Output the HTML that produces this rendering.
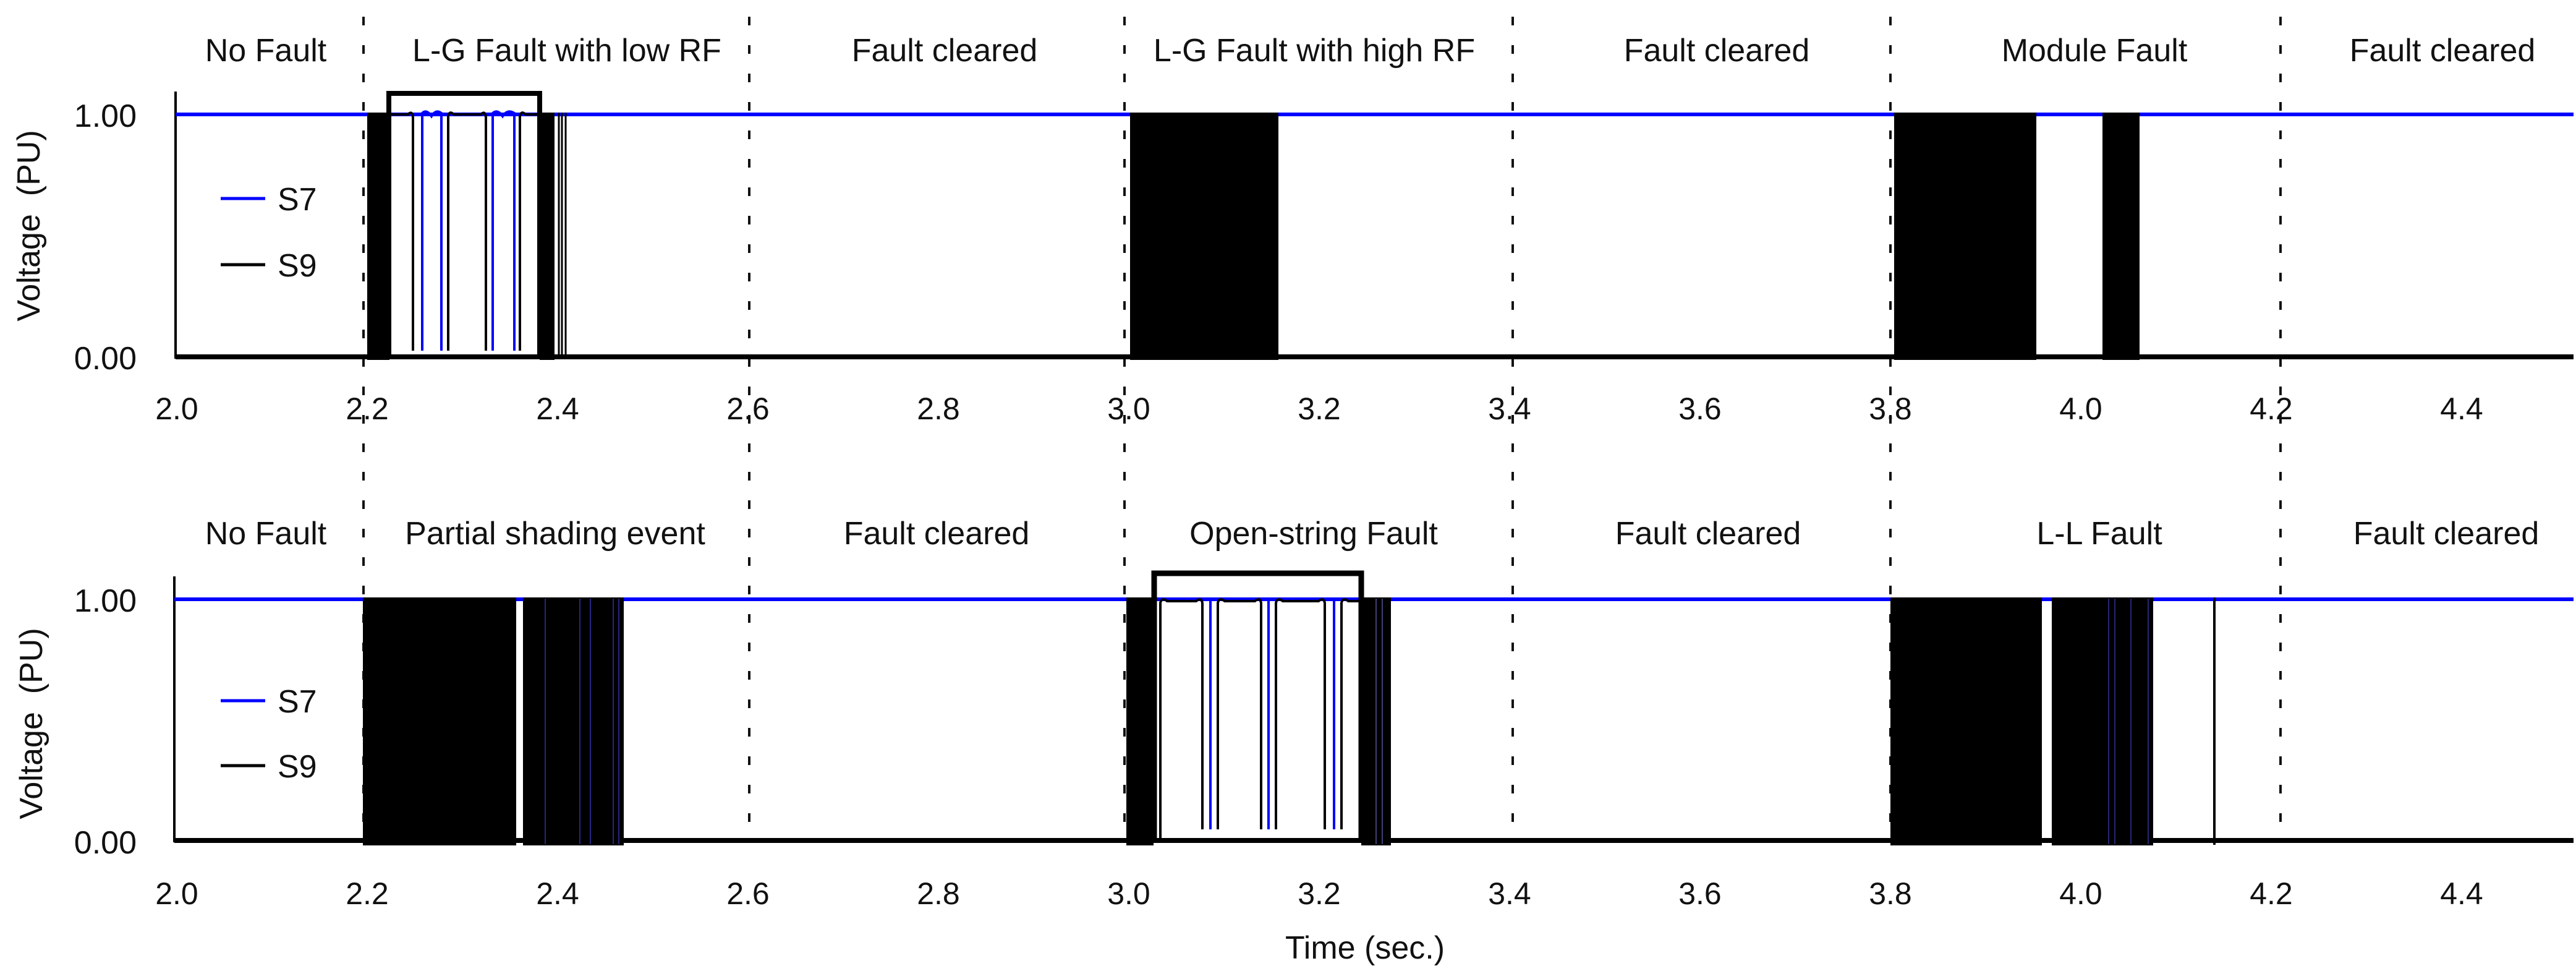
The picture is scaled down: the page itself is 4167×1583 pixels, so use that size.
<!DOCTYPE html>
<html><head><meta charset="utf-8"><style>
html,body{margin:0;padding:0;background:#fff;}
svg{display:block;}
text{font-family:"Liberation Sans",sans-serif;fill:#111;}
</style></head><body>
<svg width="4167" height="1583" viewBox="0 0 4167 1583" xmlns="http://www.w3.org/2000/svg">
<!-- dashed separators -->
<g stroke="#111" stroke-width="4" stroke-dasharray="14 32" fill="none">
<line x1="588" y1="27" x2="588" y2="1358"/>
<line x1="1212" y1="27" x2="1212" y2="1358"/>
<line x1="1819" y1="27" x2="1819" y2="1358"/>
<line x1="2447" y1="27" x2="2447" y2="1358"/>
<line x1="3058" y1="27" x2="3058" y2="1358"/>
<line x1="3689" y1="27" x2="3689" y2="1358"/>
</g>

<!-- ============ TOP PANEL ============ -->
<line x1="284" y1="148" x2="284" y2="580" stroke="#000" stroke-width="4"/>
<line x1="284" y1="185" x2="4163" y2="185" stroke="#0000ff" stroke-width="6"/>
<line x1="284" y1="577" x2="4163" y2="577" stroke="#000" stroke-width="8"/>
<!-- LG low RF -->
<rect x="594" y="182" width="36" height="400" fill="#000"/>
<rect x="873" y="182" width="24" height="400" fill="#000"/>
<g stroke="#000" stroke-width="3"><line x1="904" y1="182" x2="904" y2="580"/><line x1="909" y1="182" x2="909" y2="580"/><line x1="915" y1="182" x2="915" y2="580"/></g>
<path d="M629 580 V151 H873 V580" fill="none" stroke="#000" stroke-width="8"/>
<path d="M633 185 H660 Q667 178 668 190 V567 M725 567 V188 Q727 178 734 185 H778 Q785 178 786 190 V567 M841 567 V188 Q843 178 850 185 H870" fill="none" stroke="#000" stroke-width="4"/>
<path d="M683 567 V183 Q690 176 698 188 Q705 176 714 183 V567 M797 567 V183 Q805 176 813 188 Q821 176 832 183 V567" fill="none" stroke="#0000ff" stroke-width="4"/>
<!-- LG high RF -->
<rect x="1828" y="182" width="240" height="400" fill="#000"/>
<!-- Module -->
<rect x="3064" y="182" width="230" height="400" fill="#000"/>
<rect x="3401" y="182" width="60" height="400" fill="#000"/>
<!-- legend -->
<line x1="357" y1="321" x2="429" y2="321" stroke="#0000ff" stroke-width="5"/>
<line x1="357" y1="428" x2="429" y2="428" stroke="#000" stroke-width="5"/>
<text x="449" y="340" font-size="52">S7</text>
<text x="449" y="447" font-size="52">S9</text>
<text x="221" y="205" font-size="52" text-anchor="end">1.00</text>
<text x="221" y="597" font-size="52" text-anchor="end">0.00</text>
<text transform="translate(64,365) rotate(-90)" font-size="52" text-anchor="middle" xml:space="preserve">Voltage  (PU)</text>
<g font-size="52" text-anchor="middle">
<text x="430" y="99">No Fault</text>
<text x="917" y="99">L-G Fault with low RF</text>
<text x="1528" y="99">Fault cleared</text>
<text x="2126" y="99">L-G Fault with high RF</text>
<text x="2777" y="99">Fault cleared</text>
<text x="3388" y="99">Module Fault</text>
<text x="3951" y="99">Fault cleared</text>
</g>
<g font-size="50" text-anchor="middle">
<text x="286" y="678">2.0</text><text x="594" y="678">2.2</text><text x="902" y="678">2.4</text>
<text x="1210" y="678">2.6</text><text x="1518" y="678">2.8</text><text x="1826" y="678">3.0</text>
<text x="2134" y="678">3.2</text><text x="2442" y="678">3.4</text><text x="2750" y="678">3.6</text>
<text x="3058" y="678">3.8</text><text x="3366" y="678">4.0</text><text x="3674" y="678">4.2</text>
<text x="3982" y="678">4.4</text>
</g>

<!-- ============ BOTTOM PANEL ============ -->
<line x1="282" y1="932" x2="282" y2="1362" stroke="#000" stroke-width="4"/>
<line x1="282" y1="969" x2="4163" y2="969" stroke="#0000ff" stroke-width="6"/>
<line x1="282" y1="1359" x2="4163" y2="1359" stroke="#000" stroke-width="8"/>
<!-- partial shading -->
<rect x="587" y="966" width="248" height="401" fill="#000"/>
<rect x="846" y="966" width="163" height="401" fill="#000"/>
<g stroke="#3333aa" stroke-width="1.5"><line x1="882" y1="968" x2="882" y2="1365"/><line x1="938" y1="968" x2="938" y2="1365"/><line x1="955" y1="968" x2="955" y2="1365"/><line x1="992" y1="968" x2="992" y2="1365"/><line x1="1001" y1="968" x2="1001" y2="1365"/></g>
<!-- open string -->
<rect x="1822" y="966" width="44" height="401" fill="#000"/>
<rect x="2202" y="966" width="48" height="401" fill="#000"/>
<g stroke="#555599" stroke-width="1.5"><line x1="2226" y1="968" x2="2226" y2="1365"/><line x1="2236" y1="968" x2="2236" y2="1365"/></g>
<path d="M1867 1363 V927 H2202 V1363" fill="none" stroke="#000" stroke-width="9"/>
<path d="M1877 1355 V975 Q1879 965 1888 972 H1935 Q1943 965 1945 975 V1341 M1970 1341 V975 Q1972 965 1981 972 H2030 Q2038 965 2040 975 V1341 M2064 1341 V975 Q2066 965 2075 972 H2133 Q2141 965 2143 975 V1341 M2170 1341 V975 Q2172 965 2181 972 H2200" fill="none" stroke="#000" stroke-width="4"/>
<g stroke="#0000ff" stroke-width="4"><line x1="1958" y1="970" x2="1958" y2="1341"/><line x1="2052" y1="970" x2="2052" y2="1341"/><line x1="2158" y1="970" x2="2158" y2="1341"/></g>
<!-- L-L -->
<rect x="3058" y="966" width="245" height="401" fill="#000"/>
<rect x="3319" y="966" width="164" height="401" fill="#000"/>
<g stroke="#333399" stroke-width="1.5"><line x1="3411" y1="968" x2="3411" y2="1365"/><line x1="3421" y1="968" x2="3421" y2="1365"/><line x1="3447" y1="968" x2="3447" y2="1365"/><line x1="3475" y1="968" x2="3475" y2="1365"/></g>
<line x1="3582" y1="966" x2="3582" y2="1366" stroke="#000" stroke-width="4"/>
<!-- legend -->
<line x1="357" y1="1133" x2="429" y2="1133" stroke="#0000ff" stroke-width="5"/>
<line x1="357" y1="1238" x2="429" y2="1238" stroke="#000" stroke-width="5"/>
<text x="449" y="1152" font-size="52">S7</text>
<text x="449" y="1257" font-size="52">S9</text>
<text x="221" y="989" font-size="52" text-anchor="end">1.00</text>
<text x="221" y="1380" font-size="52" text-anchor="end">0.00</text>
<text transform="translate(68,1170) rotate(-90)" font-size="52" text-anchor="middle" xml:space="preserve">Voltage  (PU)</text>
<g font-size="52" text-anchor="middle">
<text x="430" y="880">No Fault</text>
<text x="898" y="880">Partial shading event</text>
<text x="1515" y="880">Fault cleared</text>
<text x="2125" y="880">Open-string Fault</text>
<text x="2763" y="880">Fault cleared</text>
<text x="3396" y="880">L-L Fault</text>
<text x="3957" y="880">Fault cleared</text>
</g>
<g font-size="50" text-anchor="middle">
<text x="286" y="1462">2.0</text><text x="594" y="1462">2.2</text><text x="902" y="1462">2.4</text>
<text x="1210" y="1462">2.6</text><text x="1518" y="1462">2.8</text><text x="1826" y="1462">3.0</text>
<text x="2134" y="1462">3.2</text><text x="2442" y="1462">3.4</text><text x="2750" y="1462">3.6</text>
<text x="3058" y="1462">3.8</text><text x="3366" y="1462">4.0</text><text x="3674" y="1462">4.2</text>
<text x="3982" y="1462">4.4</text>
</g>
<text x="2208" y="1550" font-size="52" text-anchor="middle">Time (sec.)</text>
</svg>
</body></html>
